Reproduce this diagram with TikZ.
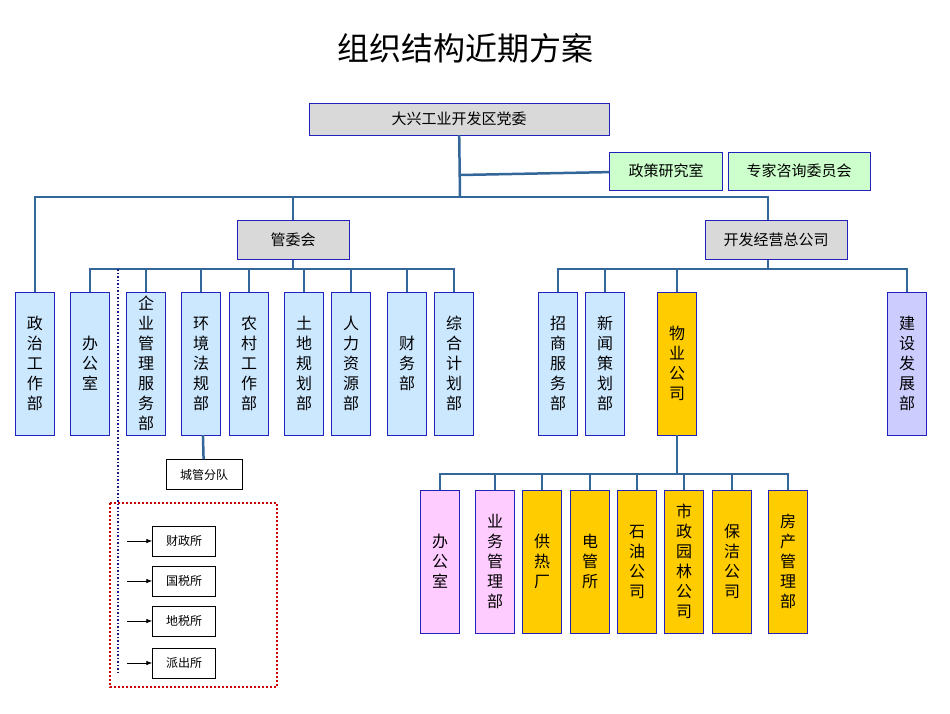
\documentclass[tikz,border=0pt]{standalone}
\usepackage{fontspec}
\setmainfont{Noto Sans CJK SC}
\XeTeXlinebreaklocale "zh"
\XeTeXlinebreakskip=0pt plus 1pt
\usetikzlibrary{positioning, arrows.meta}
\definecolor{linkblue}{HTML}{336699}
\definecolor{boxedge}{HTML}{2222BB}
\definecolor{lblue}{HTML}{CCE8FF}
\definecolor{lgreen}{HTML}{CCFFCC}
\definecolor{lgray}{HTML}{D9D9D9}
\definecolor{orng}{HTML}{FFCC00}
\definecolor{pink}{HTML}{FFCCFF}
\definecolor{lav}{HTML}{CCCCFF}
\tikzset{hbox/.style={
        draw=boxedge,
        rectangle,
        inner sep=2pt,
        align=center,
        font=\fontsize{15}{18}\selectfont
}}
\tikzset{vbox/.style={
        draw=boxedge,
        rectangle,
        inner sep=0pt,
        minimum width=39pt,
        minimum height=143pt,
        text width=17pt,
        align=center,
        font=\fontsize{16}{20}\selectfont
}}
\tikzset{small/.style={
        draw=black,
        rectangle,
        fill=white,
        minimum width=63pt,
        minimum height=30pt,
        font=\fontsize{12}{14}\selectfont
}}
\tikzset{link/.style={draw=linkblue,line width=2.5pt}}
\begin{document}
\begin{tikzpicture}[x=1pt,y=-1pt]
\useasboundingbox (0,0) rectangle (950,713);
\node[font=\fontsize{32}{36}\selectfont] (title) at (465,48) {组织结构近期方案};

\node[hbox, fill=lgray, minimum width=300pt, minimum height=32pt] (dw) at (459,119) {大兴工业开发区党委};
\node[hbox, fill=lgreen, minimum width=113pt, minimum height=38pt] (zc) at (666,171) {政策研究室};
\node[hbox, fill=lgreen, minimum width=142pt, minimum height=38pt] (zj) at (799,171) {专家咨询委员会};
\node[hbox, fill=lgray, minimum width=112pt, minimum height=39pt] (gw) at (293,240) {管委会};
\node[hbox, fill=lgray, minimum width=142pt, minimum height=39pt] (kf) at (776,240) {开发经营总公司};

% 管委会
\node[vbox, fill=lblue] (a1) at (35,363.5) {政治工作部};
\node[vbox, fill=lblue] (a2) at (90,363.5) {办公室};
\node[vbox, fill=lblue] (a3) at (146,363.5) {企业管理服务部};
\node[vbox, fill=lblue] (a4) at (201,363.5) {环境法规部};
\node[vbox, fill=lblue] (a5) at (249,363.5) {农村工作部};
\node[vbox, fill=lblue] (a6) at (304,363.5) {土地规划部};
\node[vbox, fill=lblue] (a7) at (351,363.5) {人力资源部};
\node[vbox, fill=lblue] (a8) at (407,363.5) {财务部};
\node[vbox, fill=lblue] (a9) at (454,363.5) {综合计划部};

% 开发经营总公司
\node[vbox, fill=lblue] (b1) at (558,363.5) {招商服务部};
\node[vbox, fill=lblue] (b2) at (605,363.5) {新闻策划部};
\node[vbox, fill=orng] (b3) at (677,363.5) {物业公司};
\node[vbox, fill=lav] (b4) at (907,363.5) {建设发展部};

% 物业公司
\node[vbox, fill=pink] (c1) at (440,561.5) {办公室};
\node[vbox, fill=pink] (c2) at (495,561.5) {业务管理部};
\node[vbox, fill=orng] (c3) at (542,561.5) {供热厂};
\node[vbox, fill=orng] (c4) at (590,561.5) {电管所};
\node[vbox, fill=orng] (c5) at (637,561.5) {石油公司};
\node[vbox, fill=orng] (c6) at (684,561.5) {市政园林公司};
\node[vbox, fill=orng] (c7) at (732,561.5) {保洁公司};
\node[vbox, fill=orng] (c8) at (788,561.5) {房产管理部};

\node[small, minimum width=76pt] (cg) at (204,474.5) {城管分队};
\node[small] (s1) at (184,541) {财政所};
\node[small] (s2) at (184,581) {国税所};
\node[small] (s3) at (184,621) {地税所};
\node[small] (s4) at (184,663) {派出所};

\coordinate (bus) at (460,197);
\coordinate (side) at (460,175);
\coordinate (g1) at (293,269);
\coordinate (k1) at (768,269);
\coordinate (w1) at (677,474);
\coordinate (dtop) at (118,269);
\coordinate (dbot) at (118,672);

\draw[link] (dw) -- (bus);
\draw[link] (side) -- (zc);
\draw[link] (a1.north) |- (bus) -| (k1 |- kf.north);
\draw[link] (gw.north) -- (gw.north |- bus);
\draw[link] (gw) -- (g1);
\draw[link] (k1 |- kf.south) -- (k1);
\foreach \n in {a2,a3,a4,a5,a6,a7,a8,a9}
  \draw[link] (\n.north) |- (g1);
\foreach \n in {b1,b2,b3,b4}
  \draw[link] (\n.north) |- (k1);
\draw[link] (b3) -- (w1);
\foreach \n in {c1,c2,c3,c4,c5,c6,c7,c8}
  \draw[link] (\n.north) |- (w1);
\draw[link] (a4) -- (cg);
\draw[boxedge!70!black, line width=1.5pt, dotted] (dtop) -- (dbot);
\draw[red!80!black, line width=2pt, dotted] (110,503) rectangle (277,687);
\foreach \n in {s1,s2,s3,s4}
  \draw[-{Latex[length=6pt]}, thick] (\n.west) +(-25,0) -- (\n.west);
\end{tikzpicture}
\end{document}
